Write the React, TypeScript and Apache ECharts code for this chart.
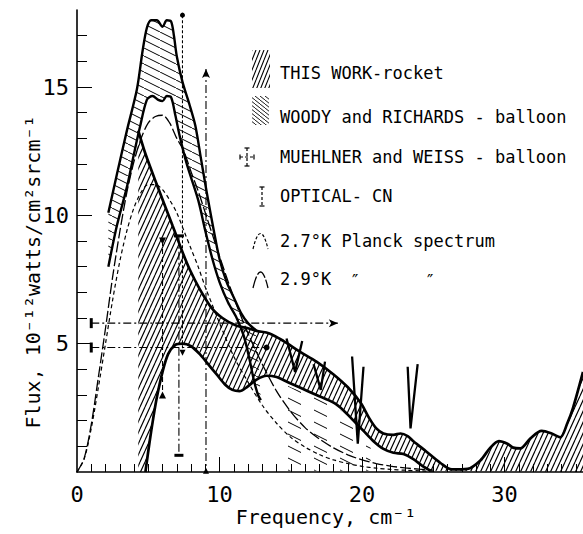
import React, { useEffect, useRef } from "react";
import * as echarts from "echarts";

type Pt = [number, number];

// ---- data (frequency cm^-1, flux 1e-12 W/cm2 sr cm-1) ----
const thisWorkUpper: Pt[] = [
  [4.3, 13.3], [4.8, 12.4], [5.6, 11.2], [6.7, 9.6], [7.9, 7.9], [9.3, 6.5], [10.2, 6.0],
  [11.2, 5.7], [12.0, 5.6], [12.6, 5.5], [13.5, 5.4], [14.5, 5.1], [15.6, 4.7], [16.8, 4.3],
  [18.0, 3.8], [19.0, 3.3], [19.9, 2.7], [20.5, 2.1], [21.0, 1.7], [21.5, 1.5], [22.2, 1.45],
  [22.7, 1.5], [23.2, 1.4], [23.6, 1.2], [24.5, 0.8], [25.5, 0.35], [26.3, 0.1], [27.4, 0.12],
  [28.3, 0.45], [29.0, 0.95], [29.6, 1.2], [30.2, 1.1], [30.6, 0.95], [31.1, 0.92], [31.8, 1.3],
  [32.6, 1.6], [33.3, 1.5], [33.9, 1.35], [34.4, 1.9], [34.8, 2.5], [35.5, 3.9],
];
const thisWorkLower: Pt[] = [
  [4.8, 0], [5.1, 1.2], [5.35, 2.1], [5.6, 2.9], [6.0, 3.9], [6.4, 4.6], [6.9, 4.95], [7.4, 5.0],
  [8.0, 4.9], [8.6, 4.6], [9.2, 4.2], [9.8, 3.8], [10.4, 3.4], [10.9, 3.2], [11.4, 3.15],
  [11.9, 3.3], [12.6, 3.6], [13.3, 3.75], [14.0, 3.7], [14.8, 3.5], [15.6, 3.3], [16.8, 3.0],
  [18.0, 2.7], [18.7, 2.4], [19.4, 2.0], [20.1, 1.6], [20.8, 1.2], [21.5, 0.9], [22.2, 0.75],
  [22.9, 0.7], [23.6, 0.5], [24.2, 0.25], [24.8, 0.05],
];
const thisWorkLeftEdge = 4.3;
const thisWorkRightEdge = 35.5;

const woodyUpper: Pt[] = [
  [2.2, 10.1], [2.8, 11.6], [3.5, 13.3], [4.2, 14.9], [4.6, 16.4], [4.9, 17.3], [5.2, 17.6],
  [5.6, 17.6], [6.0, 17.35], [6.3, 17.6], [6.6, 17.55], [6.8, 17.0], [7.0, 16.2], [7.4, 15.2],
  [7.9, 14.3], [8.3, 13.5], [8.7, 12.2], [9.1, 10.9], [9.6, 9.4], [10.0, 8.3], [10.5, 7.4],
  [11.0, 6.8], [11.5, 6.2], [12.0, 5.8], [12.6, 5.5],
];
const woodyLower: Pt[] = [
  [2.2, 8.0], [2.8, 9.6], [3.5, 11.1], [4.0, 12.4], [4.4, 13.4], [4.9, 14.5], [5.3, 14.65],
  [5.7, 14.5], [6.0, 14.45], [6.3, 14.65], [6.6, 14.6], [6.9, 13.9], [7.2, 13.1], [7.7, 12.0],
  [8.5, 10.6], [9.0, 9.4], [9.5, 8.3], [10.0, 7.4], [10.6, 6.6], [11.2, 6.0], [11.7, 5.3],
  [12.1, 4.4], [12.4, 3.6], [12.7, 3.0], [12.9, 2.8],
];
const woodyTailTop: Pt[] = [
  [14.0, 3.6], [15.0, 3.3], [16.0, 3.1], [17.0, 2.85], [18.0, 2.6], [19.0, 2.15], [20.0, 1.6], [20.6, 1.2],
];
const woodyTailBottom: Pt[] = [[20.6, 0.05], [14.0, 0.05]];

const planckFreq = [0, 0.5, 1, 1.5, 2, 2.5, 3, 3.5, 4, 4.5, 5, 5.5, 6, 6.5, 7, 7.5, 8, 8.5, 9, 9.5, 10,
  11, 12, 13, 14, 15, 16, 17, 18, 19, 20, 21, 22, 23, 24, 25];
const planck27Flux = [0, 0.5, 1.7, 3.3, 5.0, 6.7, 8.2, 9.4, 10.3, 10.9, 11.2, 11.2, 11.0, 10.6, 10.1,
  9.4, 8.7, 8.0, 7.2, 6.5, 5.8, 4.5, 3.5, 2.6, 1.9, 1.35, 0.97, 0.68, 0.47, 0.33, 0.22, 0.15, 0.1,
  0.07, 0.045, 0.03];
const planck29Flux = [0, 0.53, 1.85, 3.7, 5.6, 7.6, 9.35, 10.9, 12.1, 13.0, 13.6, 13.85, 13.9, 13.6,
  13.0, 12.5, 11.7, 10.95, 10.1, 9.25, 8.4, 6.8, 5.4, 4.2, 3.15, 2.35, 1.73, 1.29, 0.94, 0.67, 0.47,
  0.33, 0.23, 0.16, 0.11, 0.07];

const spikes: Pt[][] = [
  [[14.7, 5.2], [15.3, 3.9], [15.8, 5.1]],
  [[16.6, 4.2], [17.1, 3.2], [17.4, 4.3]],
  [[19.3, 4.5], [19.7, 1.1], [20.1, 4.1]],
  [[23.2, 4.1], [23.4, 1.7], [23.9, 4.2]],
];

// Muehlner & Weiss: horizontal (frequency range) and vertical (flux range) bars
const mwHorizFlux = [5.8, 4.85];
const mwHorizFrom = [1.0, 1.0];
const mwHorizTo = [18.3, 13.3];
const mwVertFreq = [7.4, 9.05];
const mwVertLow = [4.65, 0.05];
const mwVertHigh = [17.8, 15.7];
// Optical CN
const cnFreq = [6.0, 7.15];
const cnLow = [3.0, 0.65];
const cnHigh = [9.0, 9.2];

const xLabelValues = [0, 10, 20, 30];
const xMajorTicks = [10, 20, 30];
const yLabelValues = [5, 10, 15];

const MONO = "'DejaVu Sans Mono', monospace";

function hatch(w: number, h: number, dir: "/" | "\\", lw: number) {
  const c = document.createElement("canvas");
  c.width = w;
  c.height = h;
  const ctx = c.getContext("2d")!;
  ctx.strokeStyle = "#000";
  ctx.lineWidth = lw;
  ctx.beginPath();
  for (let k = -1; k <= 1; k++) {
    if (dir === "/") {
      ctx.moveTo(k * w, h);
      ctx.lineTo(k * w + w, 0);
    } else {
      ctx.moveTo(k * w, 0);
      ctx.lineTo(k * w + w, h);
    }
  }
  ctx.stroke();
  return { image: c, repeat: "repeat", imageWidth: w, imageHeight: h } as any;
}

function dashStrokes(w: number, h: number) {
  const c = document.createElement("canvas");
  c.width = w;
  c.height = h;
  const ctx = c.getContext("2d")!;
  ctx.strokeStyle = "#000";
  ctx.lineWidth = 1;
  ctx.beginPath();
  ctx.moveTo(2, 2);
  ctx.lineTo(15, 8.5);
  ctx.stroke();
  return { image: c, repeat: "repeat", imageWidth: w, imageHeight: h } as any;
}

export default function App() {
  const ref = useRef<HTMLDivElement>(null);
  useEffect(() => {
    if (!ref.current) return;
    const chart = echarts.init(ref.current, null, { renderer: "svg" });

    const thisPat = hatch(5, 11, "/", 1.15);
    const woodyPat = hatch(16, 8, "\\", 1);
    const tailPat = dashStrokes(26, 12);
    const legThisPat = hatch(4, 10, "/", 1.1);
    const legWoodyPat = hatch(5, 4, "\\", 0.9);

    const thisPoly: Pt[] = [
      [thisWorkLeftEdge, 0],
      [thisWorkLeftEdge, thisWorkUpper[0][1]],
      ...thisWorkUpper,
      [thisWorkRightEdge, 0],
      ...[...thisWorkLower].reverse(),
    ];
    const woodyPoly: Pt[] = [...woodyUpper, ...[...woodyLower].reverse()];
    const tailPoly: Pt[] = [...woodyTailTop, ...woodyTailBottom];

    const polySeries = (pts: Pt[], fill: any, z: number) => ({
      type: "custom",
      coordinateSystem: "cartesian2d",
      data: [pts[0]],
      clip: true,
      silent: true,
      z,
      renderItem: (_p: any, api: any) => ({
        type: "polygon",
        shape: { points: pts.map((p) => api.coord(p)) },
        style: { fill, stroke: null },
      }),
    });

    const thickLine = (pts: Pt[], w: number) => ({
      type: "line",
      data: pts,
      smooth: 0.3,
      symbol: "none",
      silent: true,
      z: 6,
      lineStyle: { color: "#000", width: w },
    });

    const dashDot = [8, 3, 2, 3];

    const vBar = (x: number, lo: number, hi: number, topSym: any, botSym: any, dash: any) => ({
      type: "line",
      silent: true,
      z: 7,
      showSymbol: true,
      data: [
        { value: [x, hi], ...topSym },
        { value: [x, lo], ...botSym },
      ],
      itemStyle: { color: "#000" },
      lineStyle: { color: "#000", width: 1.1, type: dash },
    });

    const series: any[] = [
      polySeries(woodyPoly, woodyPat, 2),
      polySeries(tailPoly, tailPat, 2),
      polySeries(thisPoly, thisPat, 3),
      thickLine(woodyUpper, 2.4),
      thickLine(woodyLower, 2.4),
      thickLine(thisWorkUpper, 2.7),
      thickLine(thisWorkLower, 2.7),
      {
        type: "line",
        data: planckFreq.map((f, i) => [f, planck27Flux[i]]),
        smooth: 0.3,
        symbol: "none",
        silent: true,
        z: 5,
        lineStyle: { color: "#000", width: 1.2, type: [4, 3] },
      },
      {
        type: "line",
        data: planckFreq.map((f, i) => [f, planck29Flux[i]]),
        smooth: 0.3,
        symbol: "none",
        silent: true,
        z: 5,
        lineStyle: { color: "#000", width: 1.3, type: [11, 3] },
      },
      ...spikes.map((s) => ({
        type: "line",
        data: s,
        symbol: "none",
        silent: true,
        z: 6,
        lineStyle: { color: "#000", width: 2.3 },
      })),
      // Muehlner & Weiss horizontal bars
      ...mwHorizFlux.map((fl, i) => ({
        type: "line",
        silent: true,
        z: 7,
        showSymbol: true,
        data: [
          { value: [mwHorizFrom[i], fl], symbol: "rect", symbolSize: [3, 10] },
          i === 0
            ? { value: [mwHorizTo[i], fl], symbol: "arrow", symbolSize: [6, 9], symbolRotate: -90 }
            : { value: [mwHorizTo[i], fl], symbol: "circle", symbolSize: 6 },
        ],
        itemStyle: { color: "#000" },
        lineStyle: { color: "#000", width: 1.1, type: dashDot },
      })),
      vBar(mwVertFreq[0], mwVertLow[0], mwVertHigh[0],
        { symbol: "circle", symbolSize: 5 },
        { symbol: "triangle", symbolSize: 6, symbolRotate: 180 }, [3, 2]),
      vBar(mwVertFreq[1], mwVertLow[1], mwVertHigh[1],
        { symbol: "arrow", symbolSize: [6, 9] },
        { symbol: "triangle", symbolSize: 6 }, dashDot),
      vBar(cnFreq[0], cnLow[0], cnHigh[0],
        { symbol: "triangle", symbolSize: 7, symbolRotate: 180 },
        { symbol: "triangle", symbolSize: 7 }, [5, 3]),
      vBar(cnFreq[1], cnLow[1], cnHigh[1],
        { symbol: "rect", symbolSize: [10, 3] },
        { symbol: "rect", symbolSize: [9, 3] }, dashDot),
    ];

    const xMinor: number[] = [];
    for (let v = 1; v <= 35; v++) if (!xMajorTicks.includes(v)) xMinor.push(v);
    const yMinor: number[] = [];
    for (let v = 1; v <= 17; v++) if (!yLabelValues.includes(v)) yMinor.push(v);

    const axisLabelStyle = { color: "#000", fontSize: 22, fontFamily: MONO };

    const legendRows = [73, 117, 157, 196, 241, 279];
    const legendX = 280;
    const legendFont = { fontSize: 17, fontFamily: MONO, fill: "#000" };
    const legendTexts = [
      "THIS WORK-rocket",
      "WOODY and RICHARDS - balloon",
      "MUEHLNER and WEISS - balloon",
      "OPTICAL- CN",
      "2.7°K Planck spectrum",
      "2.9°K",
    ];
    const ln = (x1: number, y1: number, x2: number, y2: number, dash?: number[]) => ({
      type: "line",
      shape: { x1, y1, x2, y2 },
      style: { stroke: "#000", lineWidth: 1.2, lineDash: dash },
    });

    const graphic: any[] = [
      ...legendTexts.map((t, i) => ({
        type: "text",
        x: legendX,
        y: legendRows[i],
        style: { ...legendFont, text: t, align: "left", verticalAlign: "middle" },
      })),
      { type: "text", x: 355, y: 281, style: { ...legendFont, text: "″", align: "center", verticalAlign: "middle" } },
      { type: "text", x: 430, y: 281, style: { ...legendFont, text: "″", align: "center", verticalAlign: "middle" } },
      { type: "rect", shape: { x: 252, y: 50, width: 18, height: 38 }, style: { fill: legThisPat } },
      { type: "rect", shape: { x: 252, y: 96, width: 17, height: 29 }, style: { fill: legWoodyPat } },
      // Muehlner icon
      ln(247, 148, 247, 166, [3, 2]),
      ln(244.5, 148, 249.5, 148),
      ln(244.5, 166, 249.5, 166),
      ln(240, 157, 254, 157, [3, 2]),
      ln(240, 154.5, 240, 159.5),
      ln(254, 154.5, 254, 159.5),
      // Optical icon
      ln(262, 187, 262, 206, [3, 2]),
      ln(259.5, 187, 264.5, 187),
      ln(259.5, 206, 264.5, 206),
      {
        type: "bezierCurve",
        shape: { x1: 253, y1: 249, x2: 268, y2: 249, cpx1: 260.5, cpy1: 218 },
        style: { stroke: "#000", fill: "none", lineWidth: 1.2, lineDash: [3, 2] },
      },
      {
        type: "bezierCurve",
        shape: { x1: 253, y1: 288, x2: 268, y2: 288, cpx1: 260.5, cpy1: 256 },
        style: { stroke: "#000", fill: "none", lineWidth: 1.3, lineDash: [12, 2] },
      },
      // axis titles
      {
        type: "text",
        x: 326,
        y: 517,
        style: { text: "Frequency, cm⁻¹", fontSize: 20, fontFamily: MONO, fill: "#000", align: "center", verticalAlign: "middle" },
      },
      {
        type: "text",
        x: 33,
        y: 272,
        rotation: Math.PI / 2,
        style: { text: "Flux, 10⁻¹²watts/cm²srcm⁻¹", fontSize: 20, fontFamily: MONO, fill: "#000", align: "center", verticalAlign: "middle" },
      },
    ];

    chart.setOption({
      animation: false,
      backgroundColor: "#fff",
      grid: { left: 77, right: 0, top: 10, bottom: 62, containLabel: false },
      xAxis: [
        {
          type: "value",
          min: 0,
          max: 35.5,
          axisLine: { show: true, onZero: false, lineStyle: { color: "#000", width: 1.6 } },
          axisTick: { show: true, inside: true, length: 8, customValues: xMinor, lineStyle: { color: "#000" } },
          axisLabel: { show: true, customValues: xLabelValues, margin: 11, ...axisLabelStyle },
          splitLine: { show: false },
        },
        {
          type: "value",
          min: 0,
          max: 35.5,
          position: "bottom",
          axisLine: { show: false },
          axisTick: { show: true, inside: true, length: 15, customValues: xMajorTicks, lineStyle: { color: "#000" } },
          axisLabel: { show: false },
          splitLine: { show: false },
        },
      ],
      yAxis: [
        {
          type: "value",
          min: 0,
          max: 18,
          axisLine: { show: true, onZero: false, lineStyle: { color: "#000", width: 1.6 } },
          axisTick: { show: true, inside: true, length: 10, customValues: yMinor, lineStyle: { color: "#000" } },
          axisLabel: { show: true, customValues: yLabelValues, margin: 8, ...axisLabelStyle },
          splitLine: { show: false },
        },
        {
          type: "value",
          min: 0,
          max: 18,
          position: "left",
          axisLine: { show: false },
          axisTick: { show: true, inside: true, length: 15, customValues: yLabelValues, lineStyle: { color: "#000" } },
          axisLabel: { show: false },
          splitLine: { show: false },
        },
      ],
      series,
      graphic,
    });
    return () => chart.dispose();
  }, []);
  return (
    <div
      ref={ref}
      style={{ position: "fixed", left: 0, top: 0, width: 583, height: 534, background: "#fff" }}
    />
  );
}
